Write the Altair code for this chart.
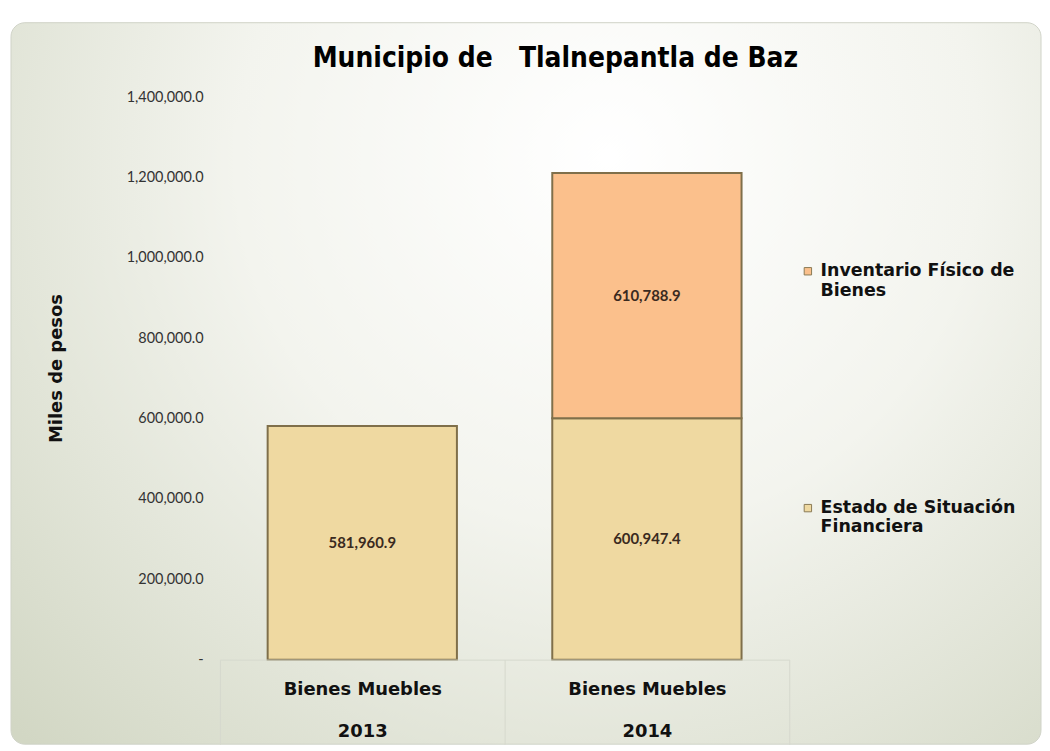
import altair as alt
import pandas as pd

# ---- data ----
anios = ["2013", "2014", "2014"]
series = ["Estado de Situación Financiera", "Estado de Situación Financiera", "Inventario Físico de Bienes"]
valores = [581960.9, 600947.4, 610788.9]
orden = [1, 1, 2]
ticks_y = [0, 200000, 400000, 600000, 800000, 1000000, 1200000, 1400000]
serie_nombres = ["Inventario Físico de Bienes", "Estado de Situación Financiera"]
serie_colores = ["#FBC08C", "#EFD9A1"]
categoria = "Bienes Muebles"

df = pd.DataFrame({"anio": anios, "serie": series, "valor": valores, "orden": orden})

W, H = 572, 565

bg_fill = alt.RadialGradient(
    gradient="radial", x1=0.58, y1=0.28, r1=0, x2=0.58, y2=0.28, r2=0.8,
    stops=[alt.GradientStop(offset=0, color="#FFFFFF"),
           alt.GradientStop(offset=0.45, color="#F3F4EE"),
           alt.GradientStop(offset=1, color="#D2D7C4")])

bg = alt.Chart(pd.DataFrame({"k": [0]})).mark_rect(
    fill=bg_fill, stroke="#D0D3C8", strokeWidth=1, cornerRadius=14
).encode(x=alt.value(-210), x2=alt.value(825), y=alt.value(-75), y2=alt.value(650))

base = alt.Chart(df)

x_axis = alt.Axis(title=None, zindex=1,
                  labelExpr=f"datum.label ? ['{categoria}', datum.label] : ''",
                  labelFont="DejaVu Sans", labelFontSize=18,
                  labelFontWeight="bold", labelColor="#111111",
                  labelLineHeight=42, labelPadding=-64, labelAngle=0,
                  tickBand="extent", ticks=True, tickSize=85,
                  tickColor="#D6D9CE", domainColor="#D6D9CE")
y_axis = alt.Axis(values=ticks_y, zindex=1,
                  labelExpr="datum.value == 0 ? '-' : format(datum.value, ',.1f')",
                  labelFont="Lato", labelFontSize=14.5, labelColor="#333333",
                  labelPadding=17, ticks=False, domain=False, grid=False,
                  title="Miles de pesos", titleFont="DejaVu Sans",
                  titleFontSize=18, titleFontWeight="bold", titleColor="#111111",
                  titleX=-155, titleY=272, titleAngle=-90)
x_scale = alt.Scale(paddingInner=0, paddingOuter=0)
y_scale = alt.Scale(domain=[0, 1400000], nice=False)

bars = base.mark_bar(stroke="#7F6F4A", strokeWidth=2,
                     width=alt.RelativeBandSize(0.665)).encode(
    x=alt.X("anio:N", scale=x_scale, axis=x_axis),
    y=alt.Y("valor:Q", stack="zero", scale=y_scale, axis=y_axis),
    color=alt.Color("serie:N",
                    scale=alt.Scale(domain=serie_nombres, range=serie_colores),
                    legend=alt.Legend(title=None, orient="none", legendX=582, legendY=166,
                                      symbolType="square", symbolSize=55,
                                      symbolStrokeColor="#8A7A55", symbolStrokeWidth=1,
                                      labelFont="DejaVu Sans", labelFontSize=17.5,
                                      labelFontWeight="bold", labelColor="#111111",
                                      labelLimit=400, rowPadding=200, zindex=1,
                                      labelExpr="datum.label == 'Inventario Físico de Bienes' ? ['Inventario Físico de', 'Bienes'] : ['Estado de Situación', 'Financiera']")),
    order=alt.Order("orden:Q"),
)

labels = base.transform_stack(
    stack="valor", as_=["y0", "y1"], groupby=["anio"], sort=[alt.SortField("orden")]
).transform_calculate(mid="(datum.y0 + datum.y1) / 2").mark_text(
    font="Lato", fontWeight="bold", fontSize=15, color="#3A2A20"
).encode(
    x=alt.X("anio:N", scale=x_scale, axis=x_axis),
    y=alt.Y("mid:Q", scale=y_scale, axis=y_axis),
    text=alt.Text("valor:Q", format=",.1f"),
)

chart = alt.layer(bg, bars, labels).properties(
    width=W, height=H,
    padding={"left": 2, "top": 12, "right": 0, "bottom": 0},
    title=alt.TitleParams("Municipio de\u00a0\u00a0 Tlalnepantla de Baz",
                          font="'DejaVu Sans Condensed', Roboto, sans-serif", fontSize=28,
                          fontWeight="bold", frame="group",
                          color="#000000", anchor="middle", dx=51, offset=-51, zindex=1),
    background="white",
).configure_view(stroke=None)

chart.save("out.html", embed_options={"renderer": "svg", "actions": False})
